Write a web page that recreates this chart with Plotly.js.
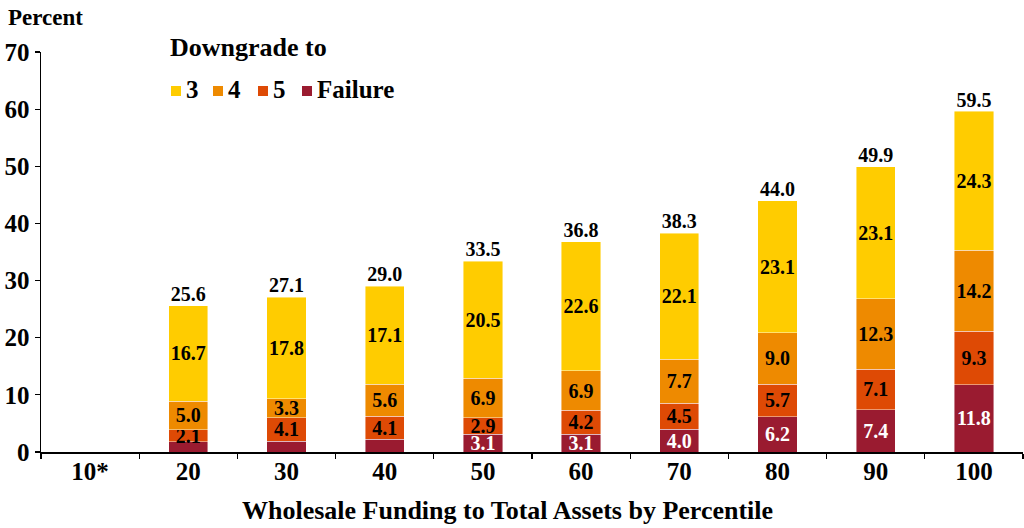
<!DOCTYPE html>
<html>
<head>
<meta charset="utf-8">
<script src="https://cdn.plot.ly/plotly-3.0.1.min.js"></script>
<style>html,body{margin:0;padding:0;background:#fff;}#chart{width:1024px;height:528px;}</style>
</head>
<body>
<div id="chart"></div>
<script>
const categories = ['10*','20','30','40','50','60','70','80','90','100'];
const down3   = [null,16.7,17.8,17.1,20.5,22.6,22.1,23.1,23.1,24.3];
const down4   = [null,5.0,3.3,5.6,6.9,6.9,7.7,9.0,12.3,14.2];
const down5   = [null,2.1,4.1,4.1,2.9,4.2,4.5,5.7,7.1,9.3];
const failure = [null,1.8,1.9,2.2,3.1,3.1,4.0,6.2,7.4,11.8];
const totals  = [null,25.6,27.1,29.0,33.5,36.8,38.3,44.0,49.9,59.5];
const failureLabelShown = [false,false,false,false,true,true,true,true,true,true];
const seriesNames = ['3','4','5','Failure'];
const colors = ['#FFCC00','#EE8A00','#DE4A05','#9A1B30'];

const FONT = '"Liberation Serif", "DejaVu Serif", serif';
const fmt = v => (v == null ? '' : v.toFixed(1));

function barTrace(vals, name, color, textColor, shown) {
  return {
    type: 'bar', x: categories, y: vals, name: name,
    marker: {color: color, line: {color: 'rgba(255,255,255,0.55)', width: 0.8}},
    text: vals.map((v, i) => (shown && !shown[i]) ? '' : fmt(v)),
    textposition: 'inside', insidetextanchor: 'middle', textangle: 0,
    constraintext: 'none',
    textfont: {family: FONT, size: 20, weight: 'bold', color: textColor},
    hoverinfo: 'skip', showlegend: false
  };
}

const data = [
  barTrace(failure, seriesNames[3], colors[3], '#ffffff', failureLabelShown),
  barTrace(down5, seriesNames[2], colors[2], '#000000'),
  barTrace(down4, seriesNames[1], colors[1], '#000000'),
  barTrace(down3, seriesNames[0], colors[0], '#000000'),
  {
    type: 'scatter', mode: 'text', x: categories, y: totals,
    text: totals.map(fmt), textposition: 'top center',
    textfont: {family: FONT, size: 20, weight: 'bold', color: '#000'},
    cliponaxis: false, showlegend: false, hoverinfo: 'skip'
  }
];

const legendX = [171, 213, 258, 302];
const legendY = 91;
const W = 1024, H = 528, L = 41, R = 1, T = 52, B = 76;
const px = x => (x - L) / (W - L - R);
const py = y => (H - B - y) / (H - T - B);

const shapes = [];
const annotations = [];
seriesNames.forEach((n, i) => {
  shapes.push({type: 'rect', xref: 'paper', yref: 'paper',
    x0: px(legendX[i]), x1: px(legendX[i] + 10), y0: py(legendY + 5), y1: py(legendY - 5),
    fillcolor: colors[i], line: {width: 0}});
  annotations.push({xref: 'paper', yref: 'paper', x: px(legendX[i] + 13), y: py(legendY - 2),
    xanchor: 'left', yanchor: 'middle', showarrow: false, text: n,
    font: {family: FONT, size: 25, weight: 'bold', color: '#000'}});
});
annotations.push({xref: 'paper', yref: 'paper', x: px(168), y: py(47), xanchor: 'left', yanchor: 'middle',
  showarrow: false, text: 'Downgrade to', font: {family: FONT, size: 26, weight: 'bold', color: '#000'}});
annotations.push({xref: 'paper', yref: 'paper', x: px(6), y: py(17), xanchor: 'left', yanchor: 'middle',
  showarrow: false, text: 'Percent', font: {family: FONT, size: 23, weight: 'bold', color: '#000'}});
annotations.push({xref: 'paper', yref: 'paper', x: px(507), y: py(510), xanchor: 'center', yanchor: 'middle',
  showarrow: false, text: 'Wholesale Funding to Total Assets by Percentile',
  font: {family: FONT, size: 26, weight: 'bold', color: '#000'}});

const layout = {
  width: W, height: H,
  margin: {l: L, r: R, t: T, b: B, pad: 0},
  paper_bgcolor: '#fff', plot_bgcolor: '#fff',
  barmode: 'stack', bargap: 0.6,
  showlegend: false,
  font: {family: FONT, color: '#000'},
  xaxis: {
    type: 'category', categoryorder: 'array', categoryarray: categories,
    showline: true, linecolor: '#000', linewidth: 2,
    ticks: 'outside', tickson: 'boundaries', ticklen: 5, tickwidth: 1.2, tickcolor: '#000',
    ticklabelstandoff: -4,
    tickfont: {family: FONT, size: 25, weight: 'bold', color: '#000'},
    showgrid: false, zeroline: false, fixedrange: true
  },
  yaxis: {
    range: [0, 70], tickvals: [0,10,20,30,40,50,60,70],
    showline: true, linecolor: '#000', linewidth: 1.5,
    ticks: 'outside', ticklen: 5, tickwidth: 1.2, tickcolor: '#000',
    tickfont: {family: FONT, size: 25, weight: 'bold', color: '#000'},
    showgrid: false, zeroline: false, fixedrange: true
  },
  shapes: shapes,
  annotations: annotations
};

Plotly.newPlot('chart', data, layout, {staticPlot: true, displayModeBar: false});
</script>
</body>
</html>
